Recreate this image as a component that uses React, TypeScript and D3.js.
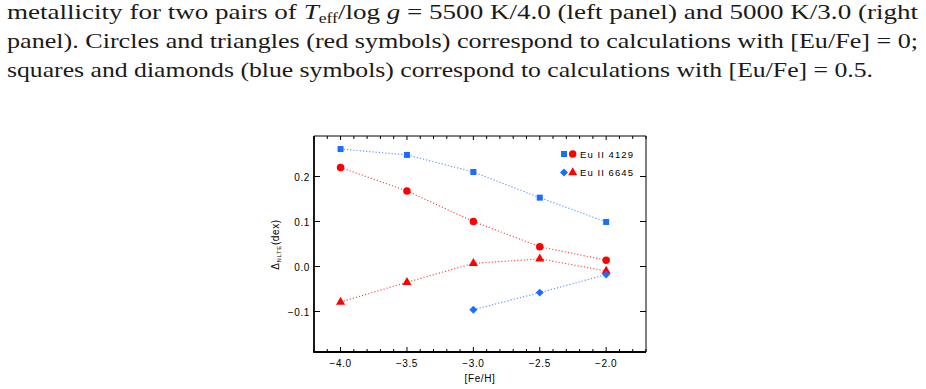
import * as d3 from 'd3'

// [Fe/H] grid and NLTE corrections (dex)
const feH = [-4.0, -3.5, -3.0, -2.5, -2.0]
const eu4129Solar = [0.22, 0.168, 0.1, 0.044, 0.014] // circles, [Eu/Fe] = 0
const eu4129Enh = [0.261, 0.248, 0.21, 0.153, 0.099] // squares, [Eu/Fe] = 0.5
const eu6645Solar = [-0.079, -0.035, 0.007, 0.017, -0.01] // triangles, [Eu/Fe] = 0
const feHEnh6645 = [-3.0, -2.5, -2.0]
const eu6645Enh = [-0.096, -0.058, -0.018] // diamonds, [Eu/Fe] = 0.5

const xMajor = [-4.0, -3.5, -3.0, -2.5, -2.0]
const yMajor = [-0.1, 0.0, 0.1, 0.2]
const legendLabels = ['Eu II 4129', 'Eu II 6645']

const RED = '#ff0000'
const BLUE = '#1a6dff'
const AXIS_FONT = 'Liberation Sans, Arial, sans-serif'
const SERIF = 'Liberation Serif, Times New Roman, serif'

const left = 314, right = 646, top = 136, bottom = 352

export default function App() {
  const x = d3.scaleLinear().domain([-4.2, -1.7]).range([left, right])
  const y = d3.scaleLinear().domain([-0.19, 0.29]).range([bottom, top])

  const xMinor = d3.range(-42, -16).map(v => v / 10).filter(v => !xMajor.some(m => Math.abs(m - v) < 1e-6))

  const line = d3.line<[number, number]>().x(d => x(d[0])).y(d => y(d[1]))
  const pairs = (xs: number[], ys: number[]) => xs.map((v, i) => [v, ys[i]] as [number, number])

  const sq = d3.symbol().type(d3.symbolSquare).size(36)()
  const circ = d3.symbol().type(d3.symbolCircle).size(44)()
  const tri = d3.symbol().type(d3.symbolTriangle).size(36)()
  const dia = d3.symbol().type(d3.symbolDiamond2).size(40)()

  const series = [
    { xs: feH, ys: eu4129Enh, color: BLUE, path: sq },
    { xs: feH, ys: eu4129Solar, color: RED, path: circ },
    { xs: feH, ys: eu6645Solar, color: RED, path: tri },
    { xs: feHEnh6645, ys: eu6645Enh, color: BLUE, path: dia },
  ]

  return (
    <svg width={926} height={389} style={{ position: 'absolute', left: 0, top: 0, background: '#fff' }}>
      {/* caption above the figure */}
      <g fontFamily={SERIF} fontSize={21.5} fill="#1a1a1a">
        <text x={7} y={19} textLength={911} lengthAdjust="spacingAndGlyphs">
          metallicity for two pairs of <tspan fontStyle="italic">T</tspan>
          <tspan fontSize={14} dy={4}>eff</tspan>
          <tspan dy={-4}>/log </tspan>
          <tspan fontStyle="italic">g</tspan> = 5500 K/4.0 (left panel) and 5000 K/3.0 (right
        </text>
        <text x={7} y={48} textLength={911} lengthAdjust="spacingAndGlyphs">
          panel). Circles and triangles (red symbols) correspond to calculations with [Eu/Fe] = 0;
        </text>
        <text x={7} y={77} textLength={866} lengthAdjust="spacingAndGlyphs">
          squares and diamonds (blue symbols) correspond to calculations with [Eu/Fe] = 0.5.
        </text>
      </g>

      {/* frame */}
      <line x1={left} x2={right} y1={top} y2={top} stroke="#000" strokeWidth={1} />
      <line x1={right} x2={right} y1={top} y2={bottom} stroke="#000" strokeWidth={1} />
      <line x1={left} x2={left} y1={top} y2={bottom + 1} stroke="#000" strokeWidth={1.8} />
      <line x1={left} x2={right} y1={bottom} y2={bottom} stroke="#000" strokeWidth={1.8} />

      {/* x ticks, inward on both edges */}
      <g stroke="#000" strokeWidth={1}>
        {xMajor.map(v => (
          <g key={'M' + v}>
            <line x1={x(v)} x2={x(v)} y1={bottom} y2={bottom - 5} />
            <line x1={x(v)} x2={x(v)} y1={top} y2={top + 4} />
          </g>
        ))}
        {xMinor.map(v => (
          <g key={'m' + v}>
            <line x1={x(v)} x2={x(v)} y1={bottom} y2={bottom - 3} />
            <line x1={x(v)} x2={x(v)} y1={top} y2={top + 3} />
          </g>
        ))}
        {yMajor.map(v => (
          <g key={'y' + v}>
            <line x1={left} x2={left + 6} y1={y(v)} y2={y(v)} />
            <line x1={right} x2={right - 6} y1={y(v)} y2={y(v)} />
          </g>
        ))}
      </g>

      {/* tick labels */}
      <g fontFamily={AXIS_FONT} fontSize={10} fill="#000" letterSpacing={0.6}>
        {xMajor.map(v => (
          <text key={v} x={x(v)} y={366.5} textAnchor="middle">{d3.format('.1f')(v).replace('-', '\u2212')}</text>
        ))}
        {yMajor.map(v => (
          <text key={v} x={310} y={y(v) + 4.5} textAnchor="end">{d3.format('.1f')(v).replace('-', '\u2212')}</text>
        ))}
        <text x={480} y={382} textAnchor="middle">[Fe/H]</text>
        <text transform={`translate(279,244.5) rotate(-90)`} textAnchor="middle" fontSize={10}>
          Δ<tspan fontSize={6} dy={2}>NLTE</tspan><tspan dy={-2}>(dex)</tspan>
        </text>
      </g>

      {/* dotted connecting lines */}
      {series.map((s, i) => (
        <path key={'l' + i} d={line(pairs(s.xs, s.ys)) ?? ''} fill="none" stroke={s.color}
          strokeOpacity={0.75} strokeWidth={1.1} strokeDasharray="1.2 2" />
      ))}

      {/* markers */}
      {series.map((s, i) => (
        <g key={'p' + i} fill={s.color}>
          {s.xs.map((v, j) => (
            <path key={j} d={s.path ?? ''} transform={`translate(${x(v)},${y(s.ys[j])})`} />
          ))}
        </g>
      ))}

      {/* legend */}
      <g fontFamily={AXIS_FONT} fontSize={9.5} fill="#000">
        <path d={sq ?? ''} transform="translate(564,154)" fill={BLUE} />
        <path d={circ ?? ''} transform="translate(572.7,154)" fill={RED} />
        <text x={580} y={157.5} textLength={53} lengthAdjust="spacing">{legendLabels[0]}</text>
        <path d={dia ?? ''} transform="translate(564,172.5)" fill={BLUE} />
        <path d={tri ?? ''} transform="translate(572.7,172.5)" fill={RED} />
        <text x={580} y={176} textLength={53} lengthAdjust="spacing">{legendLabels[1]}</text>
      </g>
    </svg>
  )
}
